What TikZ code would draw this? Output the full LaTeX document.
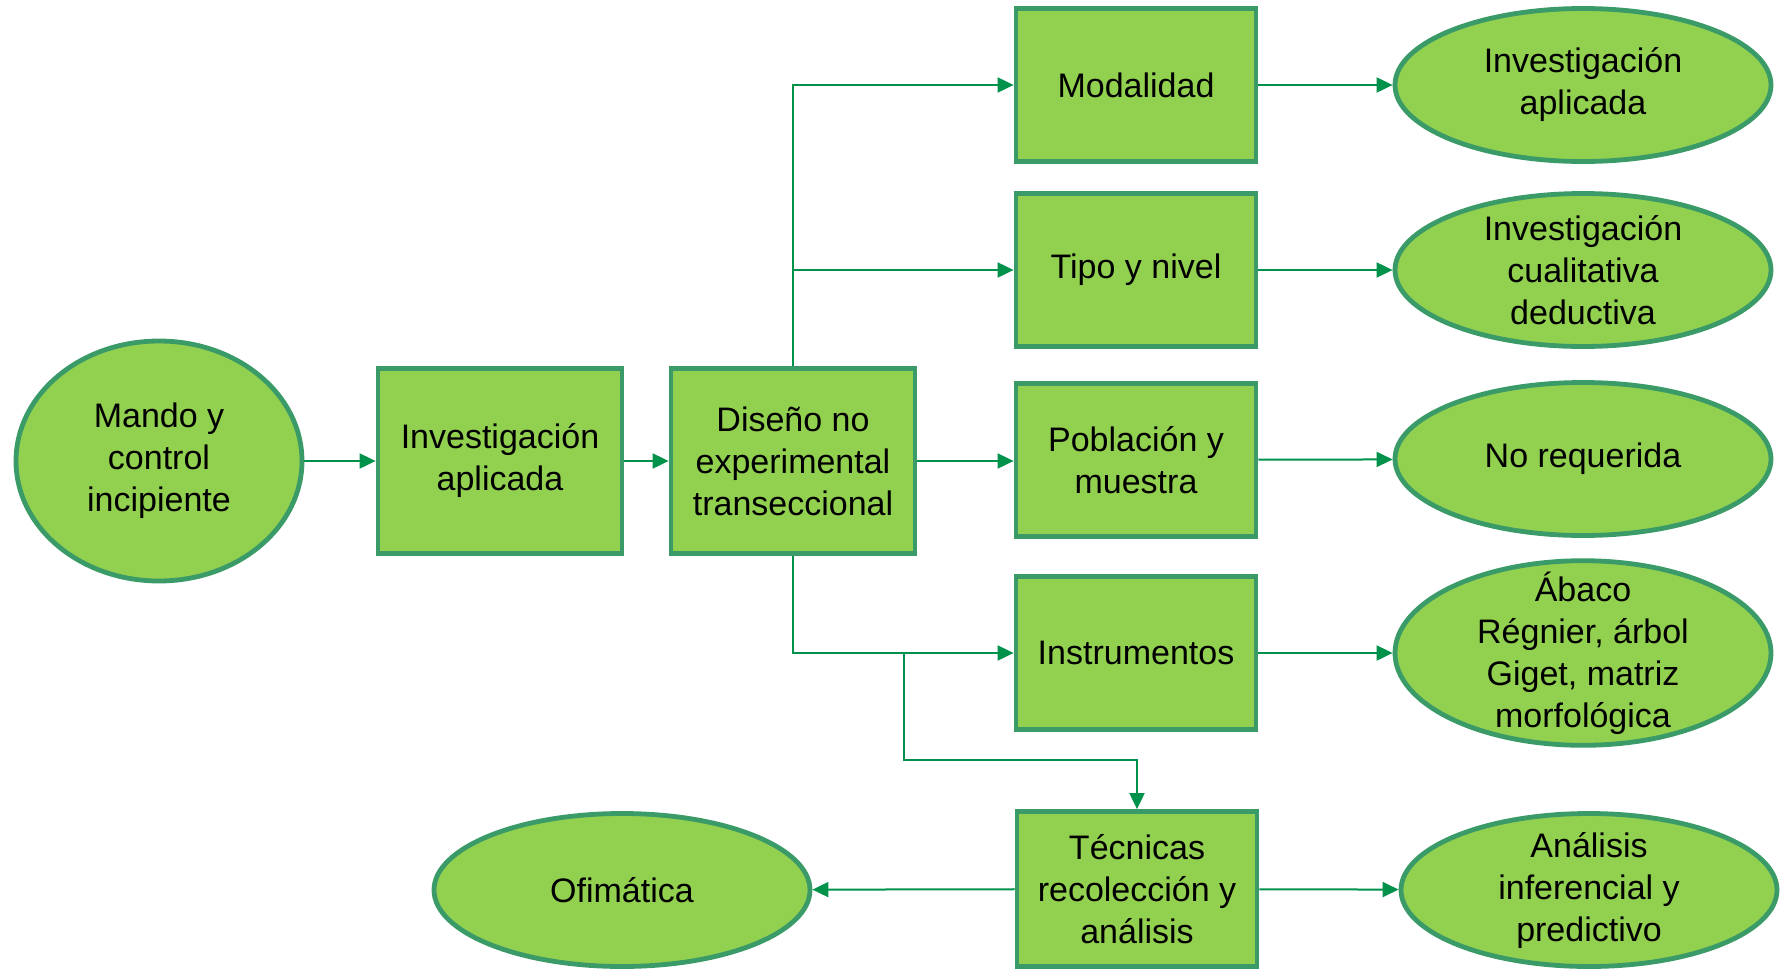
\documentclass[tikz,border=0pt]{standalone}
\usepackage{fontspec}
\setmainfont{Liberation Sans}
\usetikzlibrary{shapes.geometric}
\usetikzlibrary{arrows.meta}
\usetikzlibrary{positioning}
\definecolor{relleno}{HTML}{92D050}
\definecolor{borde}{HTML}{3A9B68}
\definecolor{linea}{HTML}{00924A}

\begin{document}
\begin{tikzpicture}[x=0.5pt,y=-0.5pt,
    texto/.style={align=center,inner sep=0pt,font=\fontsize{17}{21}\selectfont},
    cuadro/.style={texto,draw=borde,fill=relleno,line width=2.4pt,minimum width=120pt,minimum height=76.5pt},
    ovalo/.style={texto,ellipse,draw=borde,fill=relleno,line width=2.4pt,minimum width=188pt,minimum height=76.5pt},
    flecha/.style={draw=linea,line width=1pt,-{Triangle[length=8pt,width=7.5pt]}}]
    \useasboundingbox (0,0) rectangle (1785,970);

    % columna izquierda
    \node[ovalo,minimum width=143pt,minimum height=120pt] (mando) at (159,461) {Mando y\\control\\incipiente};
    \node[cuadro,minimum width=122pt,minimum height=92.5pt] (invap) at (500,461) {Investigación\\aplicada};
    \node[cuadro,minimum width=122pt,minimum height=92.5pt] (diseno) at (793,461) {Diseño no\\experimental\\transeccional};

    % cuadros de la derecha
    \node[cuadro] (modal) at (1136,85) {Modalidad};
    \node[cuadro] (tipo) at (1136,270) {Tipo y nivel};
    \node[cuadro] (pobla) at (1136,460) {Población y\\muestra};
    \node[cuadro] (instr) at (1136,653) {Instrumentos};
    \node[cuadro,minimum height=77.5pt] (tecn) at (1137,889) {Técnicas\\recolección y\\análisis};

    % resultados
    \node[ovalo] (rmodal) at (1583,85) {Investigación\\aplicada};
    \node[ovalo,inner ysep=-2pt] (rtipo) at (1583,270) {Investigación\\cualitativa\\deductiva};
    \node[ovalo] (rpobla) at (1583,459) {No requerida};
    \node[ovalo,inner ysep=-8pt,minimum height=91.5pt] (rinstr) at (1583,653) {Ábaco\\Régnier, árbol\\Giget, matriz\\morfológica};
    \node[ovalo,inner ysep=-2pt] (ranal) at (1589,890) {Análisis\\inferencial y\\predictivo};
    \node[ovalo] (rofim) at (622,890) {Ofimática};

    \coordinate (rama) at (904,653);
    \coordinate (codo) at (904,760);

    \draw[flecha] (mando) -- (invap);
    \draw[flecha] (invap) -- (diseno);
    \draw[flecha] (diseno.north) |- (modal.west);
    \draw[flecha] (diseno.north) |- (tipo.west);
    \draw[flecha] (diseno.east) -- (diseno.east -| pobla.west);
    \draw[flecha] (diseno.south) |- (instr.west);
    \draw[flecha] (rama) -- (codo) -| (tecn.north);

    \draw[flecha] (modal) -- (rmodal);
    \draw[flecha] (tipo) -- (rtipo);
    \draw[flecha] (pobla) -- (rpobla);
    \draw[flecha] (instr) -- (rinstr);
    \draw[flecha] (tecn) -- (ranal);
    \draw[flecha] (tecn) -- (rofim);
\end{tikzpicture}
\end{document}
